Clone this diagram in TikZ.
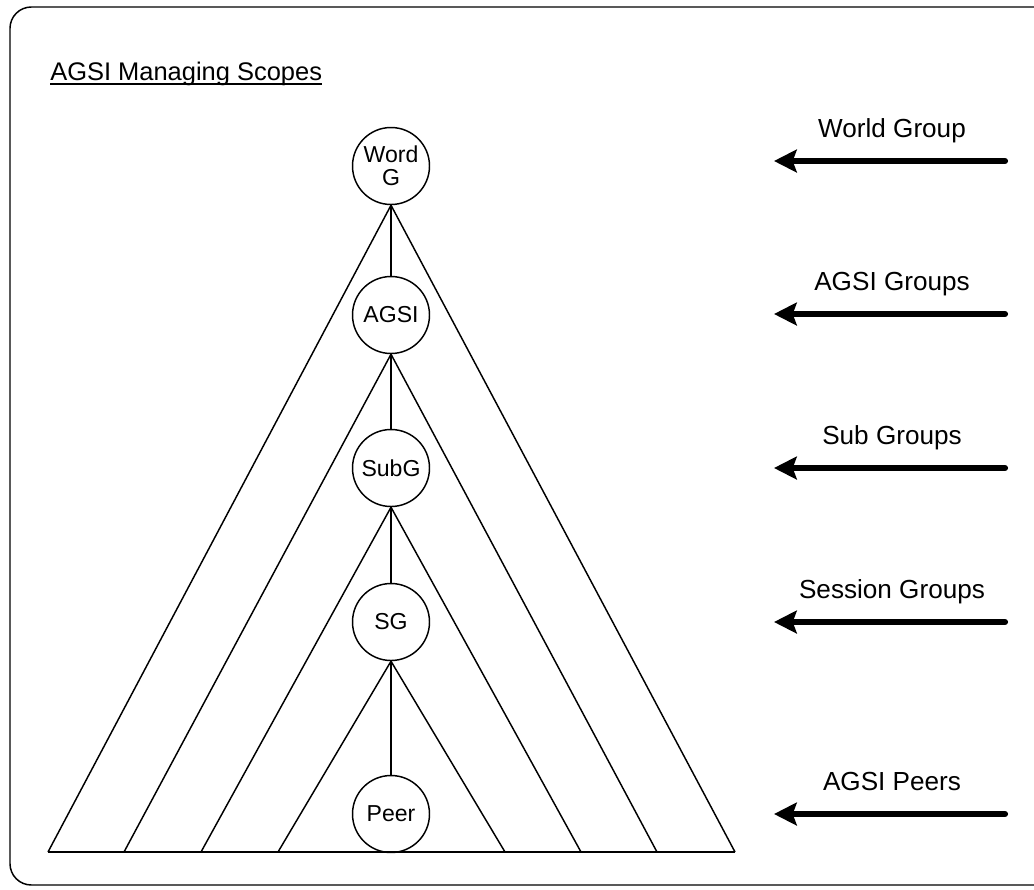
\documentclass[tikz,border=0pt]{standalone}
\usepackage{fontspec}
\setmainfont{Liberation Sans}
\usetikzlibrary{arrows.meta}

\begin{document}
\begin{tikzpicture}[x=0.75pt, y=-0.75pt,
  thin line/.style={line width=1.1pt, line join=round},
  scope node/.style={circle, draw, line width=1.1pt, minimum size=57.75pt,
    inner sep=0pt, align=center, font=\fontsize{17.3}{17}\selectfont},
  level label/.style={anchor=base, inner sep=0pt, font=\fontsize{19.6}{22}\selectfont},
  level arrow/.style={line width=4.6pt, line cap=round,
    -{Stealth[length=17pt, width=17pt, inset=3pt]}}]
  \useasboundingbox (0,0) rectangle (1034,889);

  % outer frame
  \draw[line width=1.1pt, rounded corners=16pt] (10,7) rectangle (1060,885);

  % title
  \node[anchor=base west, inner sep=0pt, font=\fontsize{19.1}{22}\selectfont]
    (title) at (50,80) {AGSI Managing Scopes};
  \draw[line width=1pt] ([yshift=-3pt]title.base west) -- ([yshift=-3pt]title.base east);

  % scope hierarchy
  \node[scope node] (world) at (391,166) {Word\\G};
  \node[scope node] (agsi)  at (391,315) {AGSI};
  \node[scope node] (subg)  at (391,468) {SubG};
  \node[scope node] (sg)    at (391,622) {SG};
  \node[scope node] (peer)  at (391,814) {Peer};

  \draw[thin line] (world) -- (agsi);
  \draw[thin line] (agsi) -- (subg);
  \draw[thin line] (subg) -- (sg);
  \draw[thin line] (sg) -- (peer);

  % nested scope triangles
  \coordinate (l1) at (48,852);  \coordinate (r1) at (735,852);
  \coordinate (l2) at (124,852); \coordinate (r2) at (657,852);
  \coordinate (l3) at (201,852); \coordinate (r3) at (581,852);
  \coordinate (l4) at (278,852); \coordinate (r4) at (505,852);

  \draw[thin line] (l1) -- (world.south) -- (r1);
  \draw[thin line] (l2) -- (agsi.south) -- (r2);
  \draw[thin line] (l3) -- (subg.south) -- (r3);
  \draw[thin line] (l4) -- (sg.south) -- (r4);
  \draw[thin line] (l1) -- (r1);

  % level arrows and labels
  \foreach \y/\txt/\nm in {161/World Group/a1, 314/AGSI Groups/a2, 468/Sub Groups/a3,
                           622/Session Groups/a4, 814/AGSI Peers/a5} {
    \coordinate (\nm-tail) at (1005,\y);
    \coordinate (\nm-tip) at (774,\y);
    \draw[level arrow] (\nm-tail) -- (\nm-tip);
    \node[level label] (\nm-label) at (892,\y-24) {\txt};
  }
\end{tikzpicture}
\end{document}
